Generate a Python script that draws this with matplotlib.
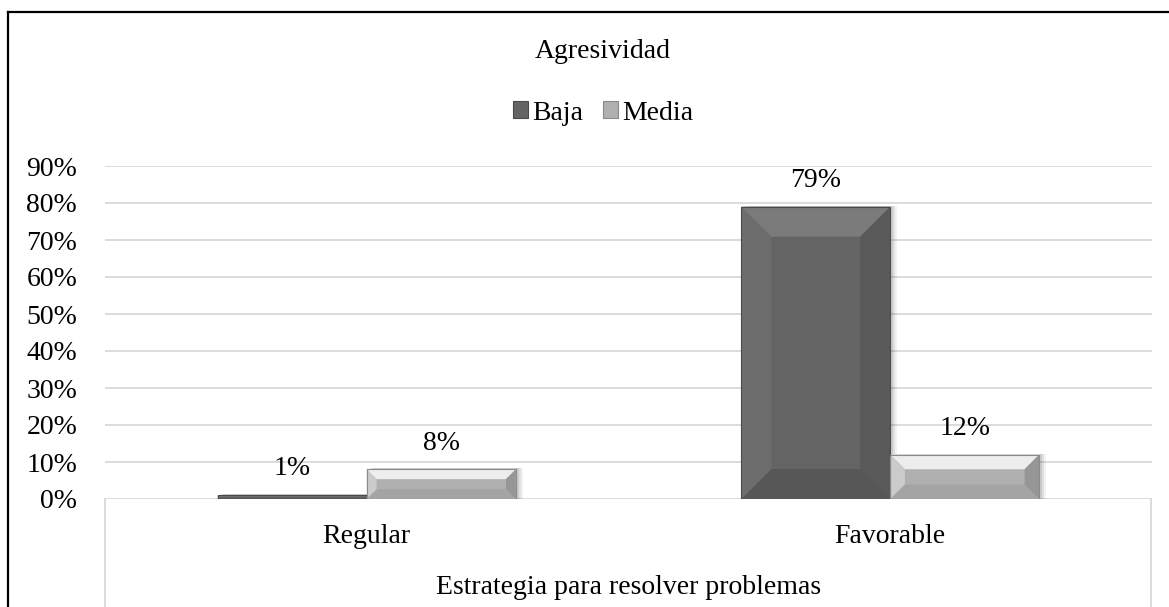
import numpy as np
import matplotlib.pyplot as plt
from matplotlib.patches import Polygon, Rectangle, Patch
from matplotlib.lines import Line2D

# ----------------------------- datos -----------------------------
categories = ["Regular", "Favorable"]
series_names = ["Baja", "Media"]
baja = [1, 79]
media = [8, 12]
y_ticks = [0, 10, 20, 30, 40, 50, 60, 70, 80, 90]

title = "Agresividad"
x_title = "Estrategia para resolver problemas"

# ----------------------------- estilo -----------------------------
plt.rcParams['font.family'] = ['Liberation Serif', 'DejaVu Serif']
plt.rcParams['font.size'] = 20

W, H = 1169, 607
fig = plt.figure(figsize=(W / 100, H / 100), dpi=100)

ax_left, ax_right, ax_top, ax_bot = 105, 1152, 166, 499
ax = fig.add_axes([ax_left / W, 1 - ax_bot / H, (ax_right - ax_left) / W, (ax_bot - ax_top) / H])
ax.set_xlim(-0.5, 1.5)
ax.set_ylim(0, 0.9)

px_x = (ax_right - ax_left) / 2.0      # pixels per x unit
px_y = (ax_bot - ax_top) / 0.9         # pixels per y unit

grid_col = "#d9d9d9"
ax.set_yticks([t / 100 for t in y_ticks])
ax.set_yticklabels([f"{t}%" for t in y_ticks])
ax.yaxis.grid(True, color=grid_col, lw=1.3)
ax.set_axisbelow(True)
ax.tick_params(axis='y', length=0, pad=20)
ax.set_xticks(range(len(categories)))
ax.set_xticklabels(categories)
ax.tick_params(axis='x', length=0, pad=18)
for s in ax.spines.values():
    s.set_visible(False)

bar_w = 149 / px_x
styles = {
    "Baja": dict(face="#646464", top="#7b7b7b", left="#6d6d6d", right="#595959", bottom="#575757", edge="#4a4a4a"),
    "Media": dict(face="#b0b0b0", top="#ededed", left="#cbcbcb", right="#969696", bottom="#a4a4a4", edge="#8a8a8a"),
}


def bevel_bar(x0, h, st):
    x1 = x0 + bar_w
    hp = h * px_y
    b = min(30, hp * 0.33)
    bx, by = b / px_x, b / px_y
    # sombra suave a la derecha
    for k, a in [(7, 0.05), (5, 0.07), (3, 0.09)]:
        ax.add_patch(Rectangle((x0 + k / px_x, 0), bar_w, h + 1 / px_y, facecolor="black",
                               alpha=a, lw=0, zorder=2))
    ax.add_patch(Rectangle((x0, 0), bar_w, h, facecolor=st["face"], lw=0, zorder=3))
    polys = [
        ([(x0, h), (x1, h), (x1 - bx, h - by), (x0 + bx, h - by)], st["top"]),
        ([(x0, 0), (x1, 0), (x1 - bx, by), (x0 + bx, by)], st["bottom"]),
        ([(x0, 0), (x0, h), (x0 + bx, h - by), (x0 + bx, by)], st["left"]),
        ([(x1, 0), (x1, h), (x1 - bx, h - by), (x1 - bx, by)], st["right"]),
    ]
    for pts, c in polys:
        ax.add_patch(Polygon(pts, closed=True, facecolor=c, lw=0, zorder=4))
    ax.add_patch(Rectangle((x0, 0), bar_w, h, facecolor="none", edgecolor=st["edge"], lw=0.8, zorder=5))


x = np.arange(len(categories))
for i, (name, vals) in enumerate(zip(series_names, [baja, media])):
    for xi, v in zip(x, vals):
        x0 = xi - bar_w + i * bar_w
        bevel_bar(x0, v / 100, styles[name])
        ax.annotate(f"{v}%", (x0 + bar_w / 2, v / 100), xytext=(0, 10), textcoords='offset points',
                    ha='center', va='bottom', fontsize=20, zorder=6)

# titulo y leyenda
fig.text(603 / W, 1 - 52 / H, title, ha='center', va='center', fontsize=20)
handles = [Patch(facecolor=styles[n]["face"], edgecolor=styles[n]["edge"], lw=0.8) for n in series_names]
fig.legend(handles, series_names, loc='center', bbox_to_anchor=(603 / W, 1 - 113 / H), ncol=2,
           frameon=False, fontsize=20, handlelength=0.55, handleheight=0.55, handletextpad=0.15,
           columnspacing=0.7)

# caja inferior y titulo del eje
for xp in [ax_left, ax_right - 1]:
    fig.add_artist(Line2D([xp / W, xp / W], [1 - ax_bot / H, 0], color=grid_col, lw=1.3))
fig.text((ax_left + ax_right) / 2 / W, 1 - 587 / H, x_title, ha='center', va='center', fontsize=20)

# marco exterior
fig.add_artist(Line2D([8 / W, 1], [1 - 11.5 / H, 1 - 11.5 / H], color="black", lw=1.6))
fig.add_artist(Line2D([8 / W, 8 / W], [1 - 11.5 / H, 0], color="black", lw=1.6))

fig.savefig("out.png", dpi=100)
